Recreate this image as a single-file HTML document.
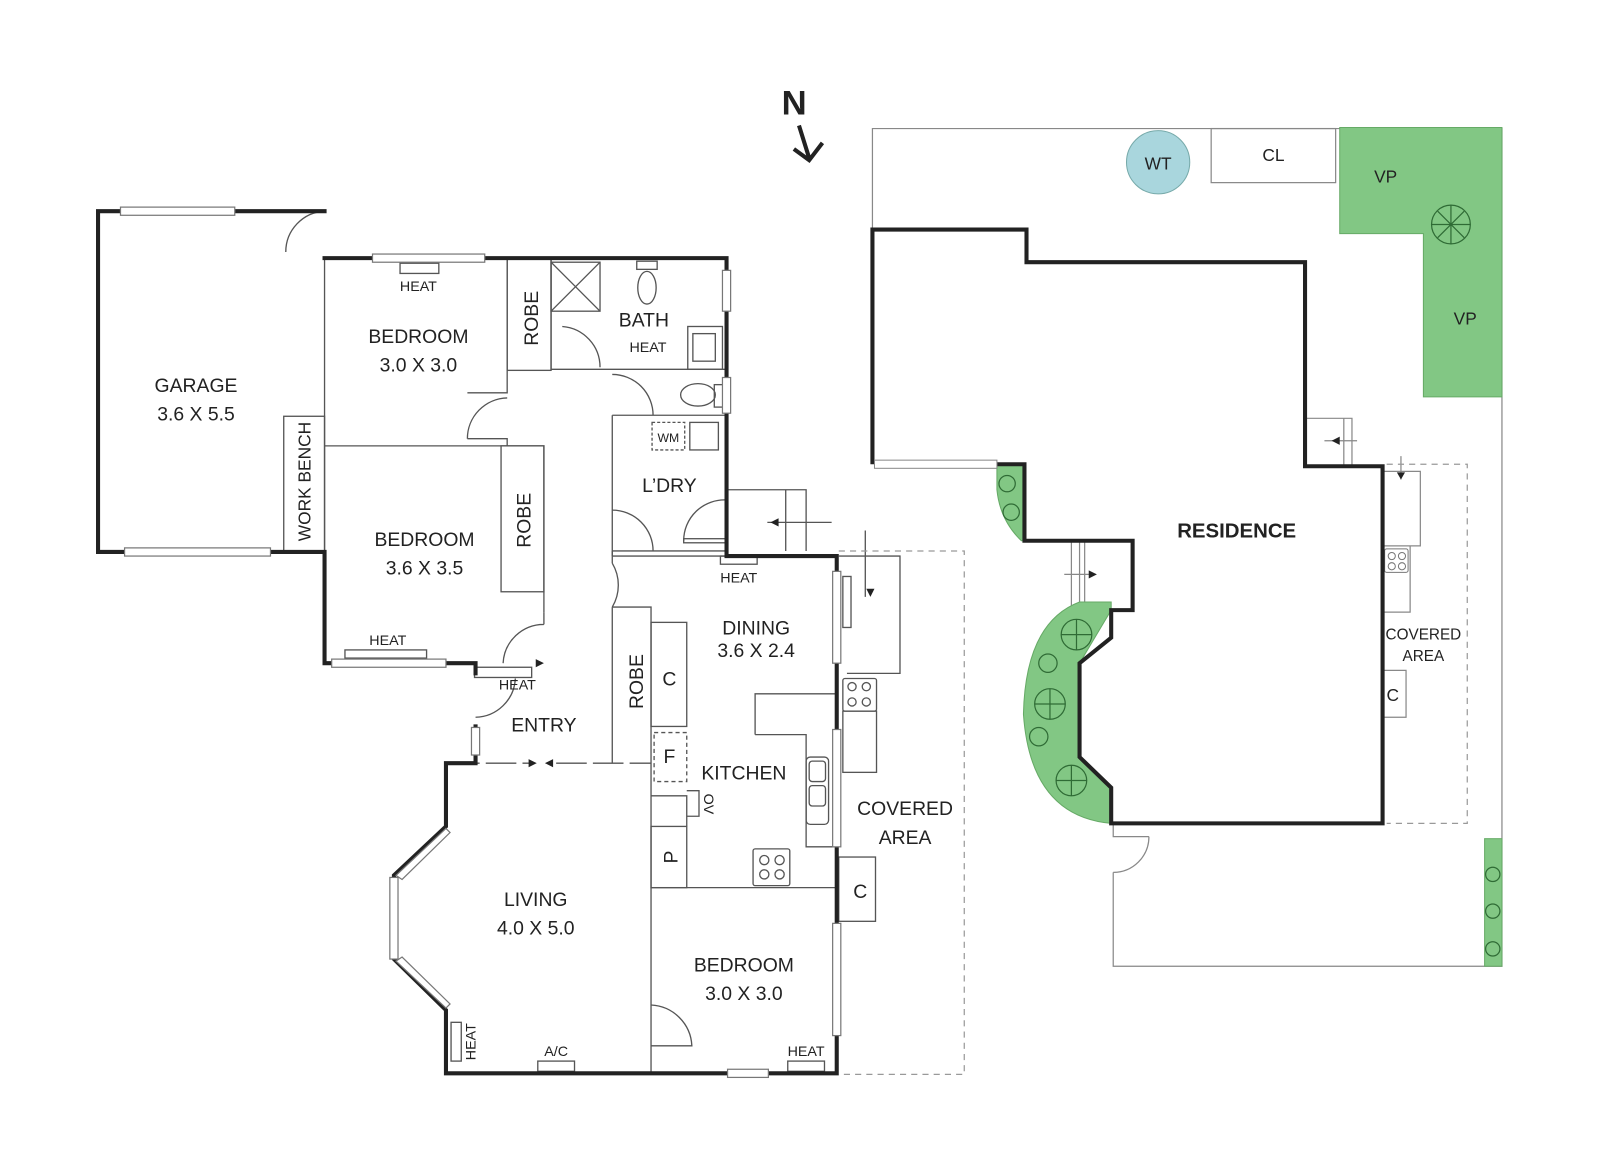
<!DOCTYPE html>
<html><head><meta charset="utf-8"><style>
html,body{margin:0;padding:0;background:#fff;}
svg{display:block}
text{font-family:"Liberation Sans",sans-serif;fill:#222;}
</style></head><body>
<svg width="1600" height="1157" viewBox="0 0 1568 1134" xmlns="http://www.w3.org/2000/svg">
<rect width="1568" height="1134" fill="#fff"/>
<!-- North -->
<text x="766" y="112" font-size="34" font-weight="bold">N</text>
<path d="M783,123 L793,155 M778,146 L793,157 L806,140" stroke="#222" stroke-width="4" fill="none"/>

<!-- property lines -->
<g stroke="#888" stroke-width="1.2" fill="none">
<path d="M855,225 V126 H1472 V947 H1091 V855"/>
<path d="M1091,807 V820 H1126"/>
<path d="M1091,855 A35,35 0 0 0 1126,820"/>
<rect x="1187" y="126" width="122" height="53"/>
<path d="M1279,410 H1325 V457 M1317,410 V457"/>
<path d="M1050,530 V598 M1058,530 V598 M1063,530 V598"/>
<path d="M1355,462 H1392 V535 H1355 M1355,535 H1382 V600 H1355"/>
<path d="M1355,657 H1378 V703 H1355"/>
<path d="M1298,432 H1330 M1373,447 V470 M1043,563 H1072"/>
</g>
<path d="M1359,455 H1438 V807 H1359" stroke="#999" stroke-width="1.2" stroke-dasharray="6,5" fill="none"/>
<path d="M1305,432 l8,-4 v8z M1373,470 l-4,-7 h8z M1075,563 l-8,-4 v8z" fill="#222"/>
<rect x="1357" y="538" width="23" height="23" rx="2" fill="none" stroke="#777"/>
<circle cx="1364" cy="545" r="3.5" fill="none" stroke="#777"/><circle cx="1374" cy="545" r="3.5" fill="none" stroke="#777"/>
<circle cx="1364" cy="555" r="3.5" fill="none" stroke="#777"/><circle cx="1374" cy="555" r="3.5" fill="none" stroke="#777"/>

<!-- WT, VP -->
<ellipse cx="1135" cy="159" rx="31" ry="31" fill="#a9d6dd" stroke="#7aa" stroke-width="1"/>
<text x="1135" y="166" font-size="17" text-anchor="middle">WT</text>
<text x="1248" y="158" font-size="17" text-anchor="middle">CL</text>
<path d="M1313,125 H1472 V389 H1395 V229 H1313 Z" fill="#82c784" stroke="#6a6" stroke-width="1"/>
<text x="1358" y="179" font-size="17" text-anchor="middle">VP</text>
<text x="1436" y="318" font-size="17" text-anchor="middle">VP</text>
<rect x="1455" y="822" width="17" height="125" fill="#82c784" stroke="#6a6"/>
<!-- gardens -->
<path d="M977,455 H1004 V530 H1001 Q980,510 977,480 Z" fill="#82c784" stroke="#6a6"/>
<path d="M1058,590 H1089 V598 L1058,650 V742 L1089,772 V807 Q1010,800 1003,700 Q1005,610 1058,590 Z" fill="#82c784" stroke="#6a6"/>
<g fill="none" stroke="#2f6b35" stroke-width="1.2">
<circle cx="1422" cy="220" r="19"/><circle cx="987" cy="474" r="8"/><circle cx="991" cy="502" r="8"/>
<circle cx="1055" cy="622" r="15"/><circle cx="1027" cy="650" r="9"/><circle cx="1029" cy="690" r="15"/>
<circle cx="1018" cy="722" r="9"/><circle cx="1050" cy="765" r="15"/>
<circle cx="1463" cy="857" r="7"/><circle cx="1463" cy="893" r="7"/><circle cx="1463" cy="930" r="7"/>
<path d="M1422,201 V239 M1403,220 H1441 M1409,207 L1435,233 M1435,207 L1409,233"/>
<path d="M1055,607 V637 M1040,622 H1070 M1029,675 V705 M1014,690 H1044 M1050,750 V780 M1035,765 H1065"/>
</g>
<!-- residence -->
<path d="M855,455 V225 H1006 V257 H1279 V457 H1355 V807 H1089 V772 L1058,742 V650 L1089,625 V598 H1110 V530 H1004 V455 H977" stroke="#222" stroke-width="4" fill="none"/>
<rect x="857" y="451" width="120" height="8" fill="#fff" stroke="#888"/>
<text x="1212" y="527" font-size="20" font-weight="bold" text-anchor="middle">RESIDENCE</text>
<text x="1395" y="627" font-size="15" text-anchor="middle">COVERED</text>
<text x="1395" y="648" font-size="15" text-anchor="middle">AREA</text>
<text x="1365" y="687" font-size="17" text-anchor="middle">C</text>

<!-- main house thin lines -->
<g stroke="#555" stroke-width="1.3" fill="none">
<path d="M318,253 V541"/>
<rect x="278" y="408" width="40" height="133"/>
<path d="M318,437 H533 V600"/>
<rect x="491" y="437" width="42" height="143"/>
<path d="M497,253 V385 H458 M497,253 H540"/>
<rect x="497" y="253" width="43" height="110"/>
<path d="M540,253 V362 H588 M588,362 H712"/>
<rect x="540" y="257" width="48" height="48"/><path d="M540,257 L588,305 M588,257 L540,305"/>
<path d="M458,430 H497 V437"/>
<path d="M458,430 A40,40 0 0 1 497,390"/>
<path d="M551,320 A40,40 0 0 1 588,360"/>
<path d="M600,367 A40,40 0 0 1 640,407"/>
<path d="M600,407 H640 M600,407 H712 M600,407 V545"/>
<path d="M600,500 A40,40 0 0 1 640,540 M670,530 A40,40 0 0 1 712,490"/>
<rect x="670" y="528" width="42" height="4"/>
<path d="M600,540 H712 M600,545 H712 M600,540 V552 M600,595 V748"/>
<path d="M600,552 A42,42 0 0 1 600,595"/>
<path d="M600,595 H638 V1052"/>
<rect x="638" y="610" width="35" height="102"/>
<rect x="641" y="718" width="32" height="48" stroke-dasharray="4,3"/>
<path d="M638,780 H673 V810 M673,775 H685 V800 H673"/>
<rect x="638" y="810" width="35" height="60"/>
<path d="M638,870 H820"/>
<rect x="674" y="320" width="34" height="42"/><rect x="679" y="327" width="22" height="27"/>
<ellipse cx="634" cy="282" rx="9" ry="16"/><rect x="624" y="256" width="20" height="8"/>
<ellipse cx="684" cy="387" rx="17" ry="11"/><rect x="700" y="377" width="10" height="22"/>
<rect x="676" y="414" width="28" height="27"/>
<rect x="639" y="414" width="32" height="27" stroke-dasharray="3,2"/>
<path d="M712,480 H790 V540 M770,480 V540 M752,512 H815"/>
<path d="M822,545 H882 V660 H830 M848,520 V585"/>
<rect x="826" y="565" width="8" height="50"/>
<path d="M740,720 V680 H820 M740,720 H790 V830 H820"/>
<rect x="826" y="665" width="33" height="32" rx="2"/>
<circle cx="835" cy="673" r="4"/><circle cx="849" cy="673" r="4"/><circle cx="835" cy="688" r="4"/><circle cx="849" cy="688" r="4"/>
<rect x="826" y="697" width="33" height="60"/>
<rect x="790" y="742" width="22" height="66" rx="4"/>
<rect x="793" y="746" width="16" height="20" rx="3"/><rect x="793" y="770" width="16" height="20" rx="3"/>
<rect x="738" y="832" width="36" height="36" rx="2"/>
<circle cx="749" cy="843" r="4.5"/><circle cx="764" cy="843" r="4.5"/><circle cx="749" cy="857" r="4.5"/><circle cx="764" cy="857" r="4.5"/>
<rect x="822" y="840" width="36" height="63"/>
<path d="M638,985 A42,42 0 0 1 678,1025 H638"/>
<path d="M533,612 A40,40 0 0 0 493,650 M533,612 V600"/>
<path d="M466,703 A40,40 0 0 0 505,665"/>
<path d="M440,748 H520 M545,748 H638" stroke-dasharray="30,6"/>
<path d="M280,247 A40,40 0 0 1 318,207"/>
<rect x="392" y="258" width="38" height="10"/>
<rect x="338" y="637" width="80" height="8"/>
<rect x="465" y="654" width="56" height="10"/>
<rect x="706" y="545" width="36" height="8"/>
<rect x="772" y="1040" width="36" height="10"/>
<rect x="527" y="1040" width="36" height="10"/>
<rect x="442" y="1002" width="10" height="38"/>
</g>
<path d="M533,650 l-8,-4 v8z M526,748 l-8,-4 v8z M534,748 l8,-4 v8z M755,512 l8,-4 v8z M853,585 l-4,-8 h8z" fill="#222"/>
<path d="M822,540 H945 V1053 H822" stroke="#999" stroke-width="1.2" stroke-dasharray="6,5" fill="none"/>

<!-- thick walls -->
<g stroke="#222" stroke-width="4" fill="none" stroke-linecap="square">
<path d="M318,207 H96 V541 H318 V650 H466 V660"/>
<path d="M318,253 H712 V545 H820 V1052 H437 V990 L386,940 V858 L437,810 V748 H466 V712"/>
</g>
<!-- windows -->
<g fill="#fff" stroke="#777" stroke-width="1.2">
<rect x="118" y="203" width="112" height="8"/><rect x="122" y="537" width="143" height="8"/>
<rect x="365" y="249" width="110" height="8"/><rect x="325" y="646" width="112" height="8"/>
<rect x="708" y="265" width="8" height="40"/><rect x="708" y="370" width="8" height="35"/>
<rect x="816" y="560" width="8" height="90"/><rect x="816" y="715" width="8" height="115"/>
<rect x="816" y="905" width="8" height="110"/><rect x="713" y="1048" width="40" height="8"/>
<rect x="462" y="713" width="8" height="27"/>
<rect x="382" y="860" width="8" height="80"/>
<path d="M437,812 L388,858 L394,862 L441,816Z M437,988 L388,942 L394,938 L441,984Z"/>
</g>

<!-- labels -->
<g font-size="19" text-anchor="middle">
<text x="192" y="384">GARAGE</text><text x="192" y="412">3.6 X 5.5</text>
<text x="410" y="336">BEDROOM</text><text x="410" y="364">3.0 X 3.0</text>
<text x="416" y="535">BEDROOM</text><text x="416" y="563">3.6 X 3.5</text>
<text x="631" y="320">BATH</text>
<text x="656" y="482">L’DRY</text>
<text x="741" y="622">DINING</text><text x="741" y="644">3.6 X 2.4</text>
<text x="533" y="717">ENTRY</text>
<text x="729" y="764">KITCHEN</text>
<text x="887" y="799">COVERED</text><text x="887" y="827">AREA</text>
<text x="525" y="888">LIVING</text><text x="525" y="916">4.0 X 5.0</text>
<text x="729" y="952">BEDROOM</text><text x="729" y="980">3.0 X 3.0</text>
<text x="656" y="672">C</text><text x="656" y="748">F</text><text x="843" y="880">C</text>
<text transform="translate(527,312) rotate(-90)">ROBE</text>
<text transform="translate(520,510) rotate(-90)">ROBE</text>
<text transform="translate(630,668) rotate(-90)">ROBE</text>
<text transform="translate(664,840) rotate(-90)">P</text>
<text transform="translate(304,472) rotate(-90)" font-size="17">WORK BENCH</text>
</g>
<g font-size="14" text-anchor="middle">
<text x="410" y="285">HEAT</text><text x="635" y="345">HEAT</text>
<text x="380" y="632">HEAT</text><text x="507" y="676">HEAT</text>
<text x="724" y="571">HEAT</text><text x="790" y="1035">HEAT</text>
<text x="545" y="1035">A/C</text>
<text x="655" y="433" font-size="12">WM</text>
<text transform="translate(466,1021) rotate(-90)">HEAT</text>
<text transform="translate(690,788) rotate(90)">OV</text>
</g>
</svg>
</body></html>
